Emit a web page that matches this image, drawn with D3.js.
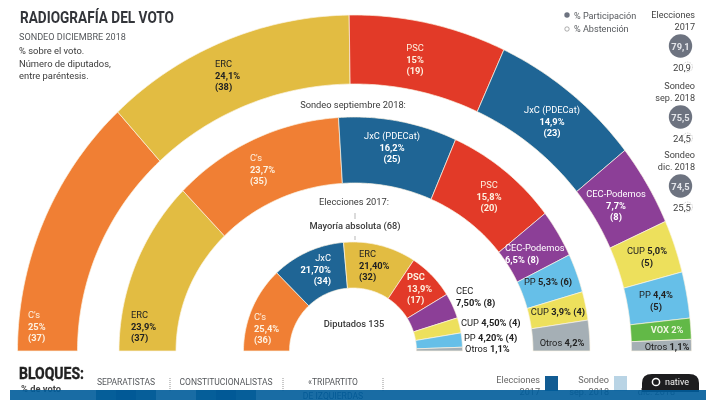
<!DOCTYPE html>
<html>
<head>
<meta charset="utf-8">
<script src="https://cdn.jsdelivr.net/npm/d3@7"></script>
<style>
  html, body { margin: 0; padding: 0; background: #fff; }
  svg { display: block; filter: blur(0.35px); }
  text { font-family: Roboto, sans-serif; }
</style>
</head>
<body>
<svg id="chart" width="723" height="419"></svg>
<script>
// values
const dic18Parties = ["C's", "ERC", "PSC", "JxC (PDECat)", "CEC-Podemos", "CUP", "PP", "VOX", "Otros"];
const dic18Votes = [25, 24.1, 15, 14.9, 7.7, 5.0, 4.4, 2, 1.1];
const sep18Parties = ["ERC", "C's", "JxC (PDECat)", "PSC", "CEC-Podemos", "PP", "CUP", "Otros"];
const sep18Votes = [23.9, 23.7, 16.2, 15.8, 6.5, 5.3, 3.9, 4.2];
const el17Parties = ["C's", "JxC", "ERC", "PSC", "CEC", "CUP", "PP", "Otros"];
const el17Votes = [25.4, 21.7, 21.4, 13.9, 7.5, 4.5, 4.2, 1.1];

const partyColors = {
  "C's": "#f07f34", "ERC": "#e2bc42", "PSC": "#e23a28", "JxC (PDECat)": "#1f6595", "JxC": "#1f6595",
  "CEC-Podemos": "#8c3f97", "CEC": "#8c3f97", "CUP": "#ede05c", "PP": "#66bfe8", "VOX": "#62b947", "Otros": "#a5afb5"
};

const svg = d3.select("#chart");
const baseY = 351;

// rings are slightly flattened on the inner edge, so the arc is sampled by hand
function ringPath(d, g) {
  const steps = d3.range(0, 41).map(i => d.startAngle + (d.endAngle - d.startAngle) * i / 40);
  const pt = (a, rx, ry) => [g.cx + rx * Math.sin(a), baseY - ry * Math.cos(a)];
  const pts = steps.map(a => pt(a, g.orx, g.ory)).concat(steps.reverse().map(a => pt(a, g.irx, g.iry)));
  return d3.line()(pts) + "Z";
}

function drawRing(parties, votes, g) {
  const pie = d3.pie().sort(null).startAngle(-Math.PI / 2).endAngle(Math.PI / 2);
  svg.append("g").selectAll("path")
    .data(pie(votes))
    .enter().append("path")
    .attr("d", d => ringPath(d, g))
    .attr("fill", (d, i) => partyColors[parties[i]])
    .attr("stroke", "#fbf3e4")
    .attr("stroke-width", 0.7);
}

drawRing(dic18Parties, dic18Votes, { cx: 354.5, orx: 337, ory: 336, irx: 277, iry: 267 });
drawRing(sep18Parties, sep18Votes, { cx: 354.5, orx: 235.5, ory: 234, irx: 178.5, iry: 168 });
drawRing(el17Parties, el17Votes, { cx: 353, orx: 109.5, ory: 109, irx: 63.5, iry: 63 });

// one text with several lines; each line is a list of [text, bold?] pieces
function label(x, y, anchor, fill, lines, size = 9.3, gap = 11.7) {
  const t = svg.append("text").attr("y", y).attr("text-anchor", anchor)
    .attr("fill", fill).attr("font-size", size);
  lines.forEach((line, i) => {
    line.forEach((p, j) => {
      const s = t.append("tspan").text(p[0]).attr("font-weight", p[1] ? 700 : 400);
      if (j === 0) s.attr("x", x).attr("dy", i === 0 ? 0 : gap);
    });
  });
  return t;
}

const dark = "#3a3a3a";
const black = "#222";
const cream = "#fdf1e0";

// outer ring
label(28, 318, "start", cream, [[["C's"]], [["25%", 1]], [["(37)", 1]]]);
label(215, 67, "start", black, [[["ERC"]], [["24,1%", 1]], [["(38)", 1]]]);
label(415, 51, "middle", cream, [[["PSC"]], [["15%", 1]], [["(19)", 1]]]);
label(552, 113, "middle", "#fff", [[["JxC (PDECat)"]], [["14,9%", 1]], [["(23)", 1]]]);
label(616, 197, "middle", "#fff", [[["CEC-Podemos"]], [["7,7%", 1]], [["(8)", 1]]]);
label(647, 254, "middle", black, [[["CUP "], ["5,0%", 1]], [["(5)", 1]]]);
label(656, 298, "middle", black, [[["PP "], ["4,4%", 1]], [["(5)", 1]]]);
label(667, 333, "middle", "#eef5df", [[["VOX 2%", 1]]]);
label(667, 350, "middle", black, [[["Otros "], ["1,1%", 1]]]);

// middle ring
label(131, 318, "start", black, [[["ERC"]], [["23,9%", 1]], [["(37)", 1]]]);
label(250, 161, "start", cream, [[["C's"]], [["23,7%", 1]], [["(35)", 1]]]);
label(392, 139, "middle", "#fff", [[["JxC (PDECat)"]], [["16,2%", 1]], [["(25)", 1]]]);
label(489, 188, "middle", cream, [[["PSC"]], [["15,8%", 1]], [["(20)", 1]]]);
label(505, 251, "start", "#fff", [[["CEC-Podemos"]], [["6,5% (8)", 1]]]);
label(548, 285, "middle", black, [[["PP "], ["5,3% (6)", 1]]]);
label(558, 315, "middle", black, [[["CUP "], ["3,9% (4)", 1]]]);
label(562, 346, "middle", black, [[["Otros "], ["4,2%", 1]]]);

// inner ring
label(254, 320, "start", cream, [[["C's"]], [["25,4%", 1]], [["(36)", 1]]]);
label(331, 261, "end", "#fff", [[["JxC"]], [["21,70%", 1]], [["(34)", 1]]]);
label(359, 257, "start", black, [[["ERC"]], [["21,40%", 1]], [["(32)", 1]]]);
label(407, 280, "start", cream, [[["PSC", 1]], [["13,9%", 1]], [["(17)", 1]]]);
label(456, 294, "start", black, [[["CEC"]], [["7,50% (8)", 1]]]);
label(461, 326, "start", black, [[["CUP "], ["4,50% (4)", 1]]]);
label(464, 341, "start", black, [[["PP "], ["4,20% (4)", 1]]]);
label(465, 352, "start", black, [[["Otros "], ["1,1%", 1]]]);

// ring captions
label(353, 108, "middle", dark, [[["Sondeo septiembre 2018:"]]]);
label(354, 205, "middle", dark, [[["Elecciones 2017:"]]]);
label(355, 229, "middle", dark, [[["Mayoría absoluta (68)", 1]]]).selectAll("tspan").attr("font-weight", 500);
label(354, 327, "middle", dark, [[["Diputados 135"]]]).selectAll("tspan").attr("font-weight", 500);
[[213, 219], [236, 240]].forEach(s => {
  svg.append("line").attr("x1", 355).attr("x2", 355).attr("y1", s[0]).attr("y2", s[1])
    .attr("stroke", "#888").attr("stroke-width", 0.6);
});

// header
label(20, 23, "start", "#33353a", [[["RADIOGRAFÍA DEL VOTO", 1]]], 16)
  .attr("textLength", 154).attr("lengthAdjust", "spacingAndGlyphs");
label(19, 40, "start", "#55585c", [[["SONDEO DICIEMBRE 2018"]]], 9.1);
label(19, 54, "start", dark, [[["% sobre el voto."]], [["Número de diputados,"]], [["entre paréntesis."]]], 9.4, 12.5);

// turnout column
const turnoutTitles = [["Elecciones", "2017"], ["Sondeo", "sep. 2018"], ["Sondeo", "dic. 2018"]];
const turnoutYes = ["79,1", "75,5", "74,5"];
const turnoutNo = ["20,9", "24,5", "25,5"];
const turnoutTop = [18, 89, 158];

svg.append("circle").attr("cx", 567).attr("cy", 15).attr("r", 2.7).attr("fill", "#6d7380");
svg.append("circle").attr("cx", 567).attr("cy", 29).attr("r", 2.2).attr("fill", "none").attr("stroke", "#777").attr("stroke-width", 0.6);
label(574, 19, "start", "#55585c", [[["% Participación"]], [["% Abstención"]]], 9.1, 13);

turnoutTitles.forEach((t, i) => {
  const y = turnoutTop[i];
  label(695, y, "end", "#444", [[[t[0]]], [[t[1]]]], 9.1, 12);
  svg.append("circle").attr("cx", 680.5).attr("cy", y + 28).attr("r", 11.7).attr("fill", "#6d7380");
  label(680.5, y + 31.5, "middle", "#e4e6ea", [[[turnoutYes[i], 1]]]);
  svg.append("circle").attr("cx", 687.5).attr("cy", y + 49).attr("r", 5).attr("fill", "none")
    .attr("stroke", "#aaa").attr("stroke-width", 0.5).attr("stroke-dasharray", "1.5 1");
  label(691, y + 52.5, "end", "#444", [[[turnoutNo[i]]]], 9.6);
});

// bottom strip, cut by the blue band
const blockNames = ["SEPARATISTAS", "CONSTITUCIONALISTAS", "«TRIPARTITO"];
const blockCentres = [126, 226, 333];
const blockDividers = [170, 283, 383];
const legendNames = ["Elecciones", "Sondeo"];
const legendSub = ["2017", "sep. 2018", "dic. 2018"];
const legendEnds = [540, 609];
const legendColors = ["#125c93", "#b9d4e5"];
const legendSubEnds = [540, 609, 675];
const ghostBars = ["el17", "sep18", "dic18"];
const ghostColors = ["#3b6f93", "#0b3f6e", "#3f7492"];

[0, 1].forEach(i => {
  const band = d3.scaleBand().domain(ghostBars).range([blockCentres[i] - 30, blockCentres[i] + 30]);
  svg.append("g").selectAll("rect").data(ghostBars).enter().append("rect")
    .attr("x", d => band(d)).attr("y", 390).attr("width", band.bandwidth()).attr("height", 10)
    .attr("fill", (d, j) => ghostColors[j]);
});

label(19, 379, "start", "#222", [[["BLOQUES:", 1]]], 17)
  .attr("stroke", "#222").attr("stroke-width", 0.4)
  .attr("textLength", 65).attr("lengthAdjust", "spacingAndGlyphs");
label(21, 392, "start", "#444", [[["% de voto", 1]]]);
label(333, 399, "middle", "#2b4f77", [[["DE IZQUIERDAS"]]], 8.6);
blockNames.forEach((b, i) => label(blockCentres[i], 385, "middle", "#55585c", [[[b]]], 8.5));
blockDividers.forEach(x => {
  svg.append("line").attr("x1", x).attr("x2", x).attr("y1", 378).attr("y2", 392)
    .attr("stroke", "#666").attr("stroke-width", 0.7).attr("stroke-dasharray", "1 1");
});
legendNames.forEach((n, i) => {
  label(legendEnds[i], 383, "end", "#666", [[[n]]], 9.1);
  svg.append("rect").attr("x", legendEnds[i] + 5).attr("y", 376).attr("width", 13).attr("height", 15)
    .attr("fill", legendColors[i]);
});
legendSub.forEach((n, i) => label(legendSubEnds[i], 394.5, "end", "#666", [[[n]]], 9.1));

// "native" badge
const badge = d3.path();
badge.moveTo(642, 392);
badge.lineTo(642, 383);
badge.quadraticCurveTo(642, 374, 652, 374);
badge.lineTo(689, 374);
badge.quadraticCurveTo(699, 374, 699, 383);
badge.lineTo(699, 392);
badge.closePath();
svg.append("path").attr("d", badge.toString()).attr("fill", "#1d1d1f");
svg.append("circle").attr("cx", 656).attr("cy", 382).attr("r", 3.6).attr("fill", "none").attr("stroke", "#fff").attr("stroke-width", 1.5);
label(665, 385, "start", "#f2f2f2", [[["native"]]], 9);

svg.append("rect").attr("x", 10).attr("y", 390).attr("width", 696).attr("height", 10)
  .attr("fill", "#005c9a").attr("fill-opacity", 0.9);
</script>
</body>
</html>
